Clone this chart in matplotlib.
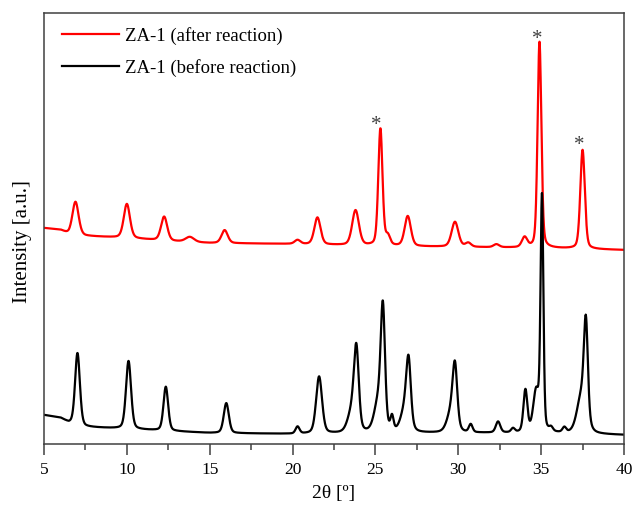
import numpy as np
import matplotlib
matplotlib.use("Agg")
import matplotlib.pyplot as plt

plt.rcParams['font.family'] = ['Liberation Serif', 'DejaVu Serif']

# peak tables: centre (2theta), height above baseline, FWHM
black_pos = [7.02, 10.1, 12.35, 16.0, 20.3, 21.6, 23.6, 23.85, 25.2, 25.45, 26.0, 26.8, 27.0,
             29.6, 29.8, 30.75, 32.4, 33.3, 34.05, 34.7, 35.05, 35.6, 36.4, 37.45, 37.7]
black_hgt = [72, 68, 44, 30, 7, 57, 22, 76, 32, 112, 14, 24, 60,
             22, 56, 8, 11, 4, 42, 40, 232, 4, 5, 38, 94]
black_fwhm = [0.34, 0.36, 0.33, 0.36, 0.28, 0.42, 0.6, 0.34, 0.6, 0.3, 0.22, 0.6, 0.32,
              0.6, 0.32, 0.26, 0.32, 0.26, 0.28, 0.42, 0.2, 0.26, 0.26, 0.65, 0.28]
black_base_x = [5, 6, 6.5, 7.5, 10, 12.5, 15, 20, 30, 35, 40]
black_base_y = [29, 26, 21, 17, 15, 13, 11, 10, 11, 11, 9]

red_pos = [6.9, 10.0, 12.25, 13.8, 15.9, 20.3, 21.5, 23.8, 25.3, 25.75, 26.95,
           29.8, 30.6, 32.3, 34.0, 34.9, 37.5]
red_hgt = [33, 34, 24, 5, 13, 4, 27, 35, 117, 9, 30, 25, 4, 3, 10, 206, 99]
red_fwhm = [0.44, 0.44, 0.44, 0.6, 0.44, 0.4, 0.44, 0.48, 0.3, 0.32, 0.44,
            0.48, 0.4, 0.4, 0.38, 0.27, 0.32]
red_base_x = [5, 6, 6.5, 7.5, 10, 12.5, 15, 20, 25, 30, 35, 40]
red_base_y = [216, 214, 210, 208, 206, 203, 201, 200, 198, 197, 196, 194]

star_x = [25.05, 34.75, 37.3]
star_y = [318, 404, 298]

labels = ['ZA-1 (after reaction)', 'ZA-1 (before reaction)']


def profile(x, pos, hgt, fwhm, bx, by):
    y = np.interp(x, bx, by)
    for c, h, w in zip(pos, hgt, fwhm):
        g = np.exp(-4 * np.log(2) * ((x - c) / w) ** 2)
        l = 1 / (1 + 4 * ((x - c) / w) ** 2)
        y = y + h * (0.7 * g + 0.3 * l)
    return y


x = np.linspace(5, 40, 3500)
y_black = profile(x, black_pos, black_hgt, black_fwhm, black_base_x, black_base_y)
y_red = profile(x, red_pos, red_hgt, red_fwhm, red_base_x, red_base_y)

fig = plt.figure(figsize=(6.36, 5.05), dpi=100)
ax = fig.add_axes([44 / 636, 61 / 505, 580 / 636, 431 / 505])

ax.plot(x, y_red, color='#ff0000', lw=1.6, label=labels[0])
ax.plot(x, y_black, color='#000000', lw=1.6, label=labels[1])

for sx, sy in zip(star_x, star_y):
    ax.text(sx, sy, '*', color='#404040', fontsize=15, ha='center', va='center')

ax.set_xlim(5, 40)
ax.set_ylim(0, 431)
ax.set_xticks(np.arange(5, 41, 5))
ax.set_xticks(np.arange(7.5, 40, 5), minor=True)
ax.set_yticks([])
ax.tick_params(axis='x', which='major', direction='out', length=8, width=1.1,
               color='#404040', labelsize=12.5, pad=5)
ax.tick_params(axis='x', which='minor', direction='out', length=4.5, width=1.1, color='#404040')
for s in ax.spines.values():
    s.set_color('#404040')
    s.set_linewidth(1.1)

ax.set_xlabel('2θ [º]', fontsize=14, labelpad=5)
ax.set_ylabel('Intensity [a.u.]', fontsize=15)
ax.yaxis.set_label_coords(-0.021, 0.469)

ax.legend(loc='upper left', bbox_to_anchor=(0.031, 0.968), frameon=False, fontsize=13.5,
          handlelength=3.05, handletextpad=0.3, labelspacing=0.75, borderpad=0, borderaxespad=0)

fig.savefig('out.png', dpi=100)
